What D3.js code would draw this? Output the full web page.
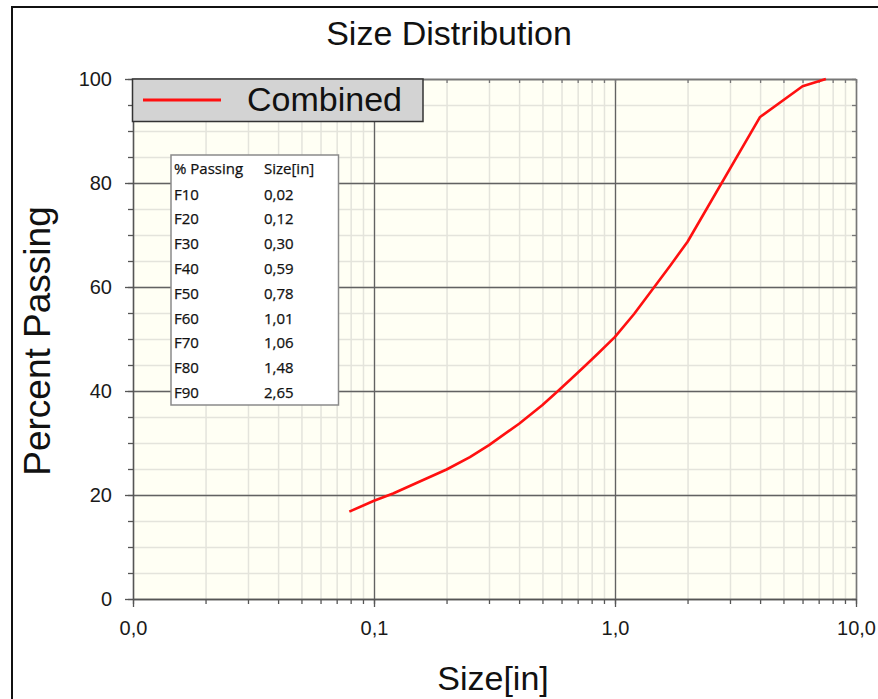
<!DOCTYPE html>
<html>
<head>
<meta charset="utf-8">
<script src="https://cdn.jsdelivr.net/npm/d3@7"></script>
<style>
  html, body { margin: 0; padding: 0; background: #fff; }
  svg { display: block; }
</style>
</head>
<body>
<script>
// curve
const sizes = [0.079, 0.1, 0.12, 0.15, 0.2, 0.25, 0.3, 0.4, 0.5, 0.58, 0.65, 0.75, 0.85, 1.0, 1.2, 1.44, 1.7, 2.0, 4.0, 6.0, 7.5]
const passing = [16.8, 18.9, 20.3, 22.3, 24.9, 27.3, 29.6, 33.7, 37.3, 40.0, 42.1, 44.8, 47.2, 50.4, 54.8, 59.7, 64.2, 68.7, 92.7, 98.6, 100]

// F-values table
const tableHeader = ['% Passing', 'Size[in]']
const tableLabels = ['F10', 'F20', 'F30', 'F40', 'F50', 'F60', 'F70', 'F80', 'F90']
const tableSizes = ['0,02', '0,12', '0,30', '0,59', '0,78', '1,01', '1,06', '1,48', '2,65']

const xMajor = [0.01, 0.1, 1, 10]
const yMajor = [0, 20, 40, 60, 80, 100]
const yMinor = d3.range(0, 101, 5)

const width = 878
const height = 699
const font = '"Liberation Sans", Arial, sans-serif'

const x = d3.scaleLog().domain([0.01, 10]).range([133, 856])
const y = d3.scaleLinear().domain([0, 100]).range([599, 79])
const xMinor = x.ticks()
const commaFormat = v => d3.format('.1f')(v).replace('.', ',')

const svg = d3.select('body').append('svg')
    .attr('width', width)
    .attr('height', height)
    .attr('viewBox', [0, 0, width, height])

// outer frame (left and top edges only are visible)
svg.append('path')
    .attr('d', `M12,${height} L12,7 L${width},7`)
    .attr('fill', 'none')
    .attr('stroke', '#111')
    .attr('stroke-width', 2)

// plot background
svg.append('rect')
    .attr('x', x.range()[0])
    .attr('y', y.range()[1])
    .attr('width', x.range()[1] - x.range()[0])
    .attr('height', y.range()[0] - y.range()[1])
    .attr('fill', '#fffff4')

// minor grid
svg.append('g')
    .attr('transform', `translate(0,${y.range()[0]})`)
    .call(d3.axisBottom(x).tickValues(xMinor).tickSize(-(y.range()[0] - y.range()[1])).tickFormat(''))
    .call(g => g.select('.domain').remove())
    .call(g => g.selectAll('line').attr('stroke', '#e4e4dc').attr('stroke-width', 1.5))
svg.append('g')
    .attr('transform', `translate(${x.range()[0]},0)`)
    .call(d3.axisLeft(y).tickValues(yMinor).tickSize(-(x.range()[1] - x.range()[0])).tickFormat(''))
    .call(g => g.select('.domain').remove())
    .call(g => g.selectAll('line').attr('stroke', '#e4e4dc').attr('stroke-width', 1.5))

// major grid
svg.append('g')
    .attr('transform', `translate(0,${y.range()[0]})`)
    .call(d3.axisBottom(x).tickValues(xMajor).tickSize(-(y.range()[0] - y.range()[1])).tickFormat(''))
    .call(g => g.select('.domain').remove())
    .call(g => g.selectAll('line').attr('stroke', '#626262').attr('stroke-width', 1.3))
svg.append('g')
    .attr('transform', `translate(${x.range()[0]},0)`)
    .call(d3.axisLeft(y).tickValues(yMajor).tickSize(-(x.range()[1] - x.range()[0])).tickFormat(''))
    .call(g => g.select('.domain').remove())
    .call(g => g.selectAll('line').attr('stroke', '#626262').attr('stroke-width', 1.3))

// top and right edges with inner ticks
svg.append('g')
    .attr('transform', `translate(0,${y.range()[1]})`)
    .call(d3.axisTop(x).tickValues(xMinor).tickSizeInner(-4).tickSizeOuter(0).tickFormat(''))
    .call(g => g.selectAll('line, path').attr('stroke', '#777').attr('stroke-width', 1.3))
svg.append('g')
    .attr('transform', `translate(${x.range()[1]},0)`)
    .call(d3.axisRight(y).tickValues(yMinor).tickSizeInner(-4).tickSizeOuter(0).tickFormat(''))
    .call(g => g.selectAll('line, path').attr('stroke', '#777').attr('stroke-width', 1.3))

// left axis: minor ticks, then major ticks with labels
svg.append('g')
    .attr('transform', `translate(${x.range()[0]},0)`)
    .call(d3.axisLeft(y).tickValues(yMinor).tickSizeInner(5).tickSizeOuter(0).tickFormat(''))
    .call(g => g.selectAll('line, path').attr('stroke', '#555').attr('stroke-width', 1.3))
svg.append('g')
    .attr('transform', `translate(${x.range()[0]},0)`)
    .call(d3.axisLeft(y).tickValues(yMajor).tickSizeInner(8).tickSizeOuter(0).tickPadding(13))
    .call(g => g.select('.domain').remove())
    .call(g => g.selectAll('line').attr('stroke', '#555').attr('stroke-width', 1.3))
    .call(g => g.selectAll('text')
        .attr('font-family', font)
        .attr('font-size', 20)
        .attr('fill', '#1a1a1a'))

// bottom axis
svg.append('g')
    .attr('transform', `translate(0,${y.range()[0]})`)
    .call(d3.axisBottom(x).tickValues(xMinor).tickSizeInner(5).tickSizeOuter(0).tickFormat(''))
    .call(g => g.selectAll('line, path').attr('stroke', '#555').attr('stroke-width', 1.3))
svg.append('g')
    .attr('transform', `translate(0,${y.range()[0]})`)
    .call(d3.axisBottom(x).tickValues(xMajor).tickSizeInner(8).tickSizeOuter(0).tickPadding(14).tickFormat(commaFormat))
    .call(g => g.select('.domain').remove())
    .call(g => g.selectAll('line').attr('stroke', '#555').attr('stroke-width', 1.3))
    .call(g => g.selectAll('text')
        .attr('font-family', font)
        .attr('font-size', 20)
        .attr('fill', '#1a1a1a'))

// curve
const points = sizes.map((s, i) => [s, passing[i]])
svg.append('path')
    .datum(points)
    .attr('fill', 'none')
    .attr('stroke', '#ff1010')
    .attr('stroke-width', 2.6)
    .attr('stroke-linejoin', 'round')
    .attr('d', d3.line().x(d => x(d[0])).y(d => y(d[1])))

// legend
svg.append('rect')
    .attr('x', 132.5)
    .attr('y', 79)
    .attr('width', 290.5)
    .attr('height', 42.5)
    .attr('fill', '#d3d3d3')
    .attr('stroke', '#333')
    .attr('stroke-width', 1.5)
svg.append('line')
    .attr('x1', 143).attr('x2', 221)
    .attr('y1', 100).attr('y2', 100)
    .attr('stroke', '#ff1010')
    .attr('stroke-width', 3)
svg.append('text')
    .attr('x', 247)
    .attr('y', 111)
    .attr('font-family', font)
    .attr('font-size', 34)
    .attr('fill', '#111')
    .text('Combined')

// F-value table
const table = svg.append('g')
    .attr('font-family', '"Open Sans", "Noto Sans", sans-serif')
    .attr('font-size', 15)
    .attr('fill', '#111')
    .attr('stroke', '#111')
    .attr('stroke-width', 0.25)
table.append('rect')
    .attr('x', 171)
    .attr('y', 155)
    .attr('width', 167.5)
    .attr('height', 250)
    .attr('fill', '#fff')
    .attr('stroke', '#8a8a8a')
    .attr('stroke-width', 1.5)
table.selectAll('text.head')
    .data(tableHeader)
    .join('text')
        .attr('class', 'head')
        .attr('x', (d, i) => i ? 264 : 174)
        .attr('y', 174)
        .text(d => d)
const row = table.selectAll('g.row')
    .data(tableLabels)
    .join('g')
        .attr('class', 'row')
        .attr('transform', (d, i) => `translate(0,${199.5 + i * 24.8})`)
row.append('text')
    .attr('x', 174)
    .text(d => d)
row.append('text')
    .attr('x', 264)
    .text((d, i) => tableSizes[i])

// titles
svg.append('text')
    .attr('x', 449)
    .attr('y', 45)
    .attr('text-anchor', 'middle')
    .attr('font-family', font)
    .attr('font-size', 34)
    .attr('fill', '#111')
    .text('Size Distribution')
svg.append('text')
    .attr('x', 493)
    .attr('y', 690)
    .attr('text-anchor', 'middle')
    .attr('font-family', font)
    .attr('font-size', 34)
    .attr('fill', '#111')
    .text('Size[in]')
svg.append('text')
    .attr('transform', 'translate(50,341) rotate(-90)')
    .attr('text-anchor', 'middle')
    .attr('font-family', font)
    .attr('font-size', 37)
    .attr('fill', '#111')
    .text('Percent Passing')
</script>
</body>
</html>
